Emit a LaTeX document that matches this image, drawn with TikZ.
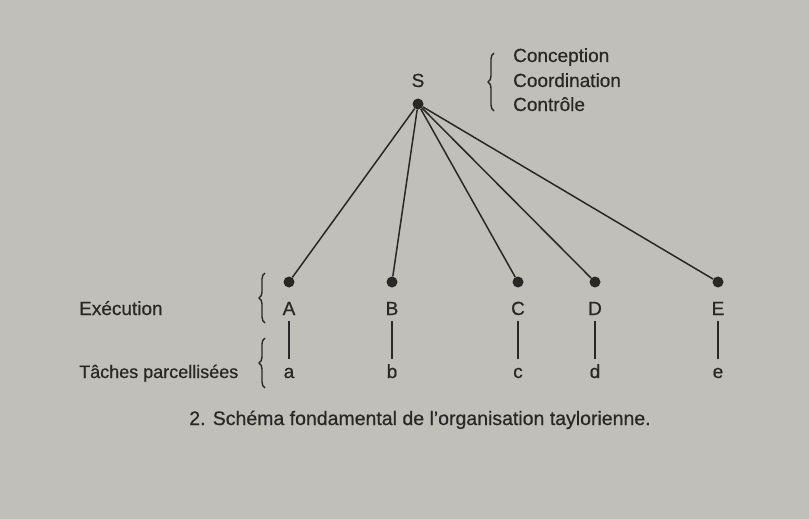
\documentclass[tikz,border=0pt]{standalone}
\usepackage{fontspec}
\setmainfont{Liberation Sans}
\newfontfamily\inkfont[FakeBold=0.6]{Liberation Sans}
\usetikzlibrary{positioning, calc, decorations.pathreplacing}
\definecolor{paperGray}{RGB}{193, 191, 185}
\definecolor{inkDark}{RGB}{42, 40, 38}

\begin{document}
\begin{tikzpicture}[x=1pt, y=-1pt,
    lbl/.style={font=\inkfont\fontsize{19}{22}\selectfont, text=inkDark, inner sep=1pt, text height=13pt, text depth=4pt},
    dot/.style={circle, fill=inkDark, inner sep=0pt, minimum size=11pt},
    link/.style={draw=inkDark, line width=1.5pt},
    curly/.style={draw=inkDark, line width=1.4pt, decorate, decoration={brace, amplitude=6pt}}]
    % paper
    \fill[paperGray] (0,0) rectangle (809,519);

    % top: S and its functions
    \node[lbl, anchor=base] (S) at (418,87) {S};
    \node[dot] (sdot) at (418,104) {};
    \draw[curly] (494,111) -- (494,53);
    \node[lbl, anchor=base west] (conc) at (512,62) {Conception};
    \node[lbl, anchor=base west] (coord) at (512,87) {Coordination};
    \node[lbl, anchor=base west] (ctrl) at (512,111) {Contrôle};

    % workers and their tasks
    \foreach \name/\low/\x in {A/a/289, B/b/392, C/c/518, D/d/595, E/e/718} {
        \node[dot] (dot\name) at (\x,282) {};
        \node[lbl, anchor=base] (\name) at (\x,315) {\name};
        \node[lbl, anchor=base] (\low) at (\x,378) {\low};
        \draw[link] (sdot) -- (dot\name);
        \draw[link, shorten <=1pt, shorten >=5pt] (\name.south) -- (\low.north);
    }

    % left labels
    \node[lbl, anchor=base west] (exec) at (78,315) {Exécution};
    \node[lbl, anchor=base west, font=\inkfont\fontsize{18}{22}\selectfont] (taches) at (78,378) {Tâches parcellisées};
    \draw[curly] (265,323) -- (265,273);
    \draw[curly] (265,388) -- (265,338);

    % caption
    \node[lbl, anchor=base, font=\inkfont\fontsize{19.5}{22}\selectfont] (caption) at (420,425) {2. Schéma fondamental de l’organisation taylorienne.};
\end{tikzpicture}
\end{document}
